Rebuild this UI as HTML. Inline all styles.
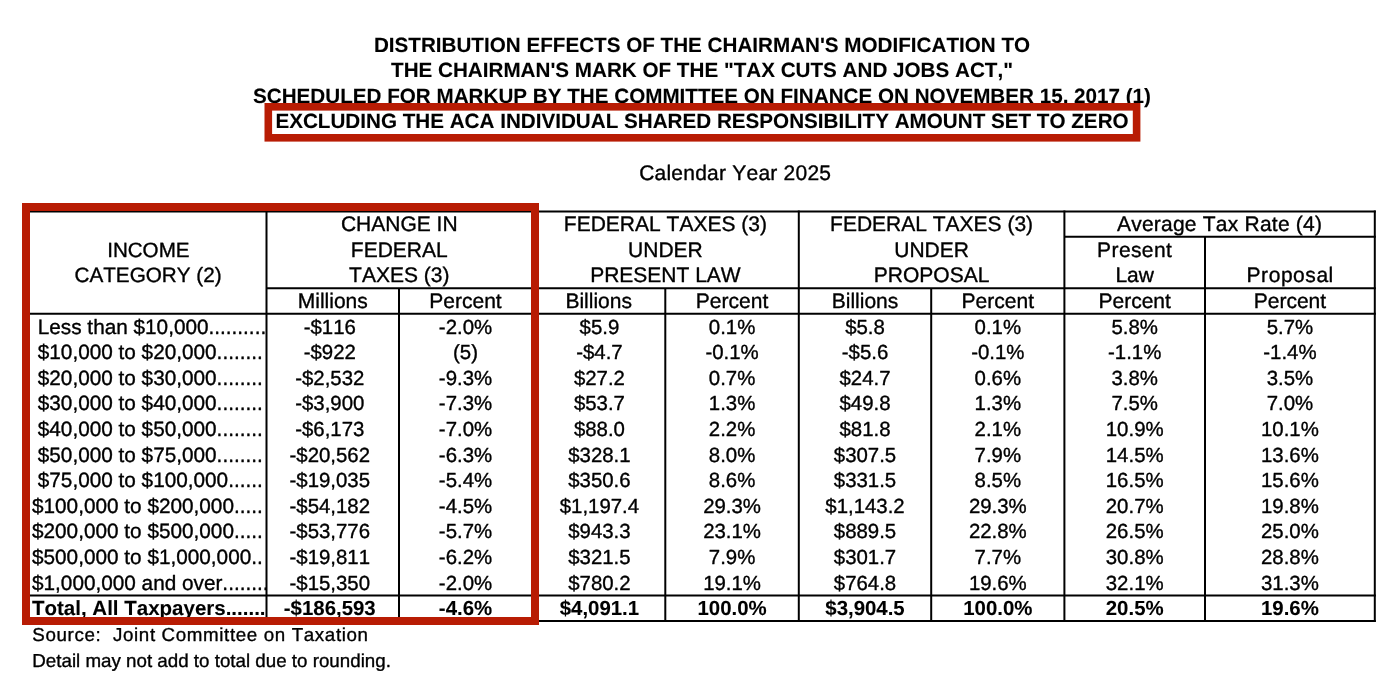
<!DOCTYPE html>
<html lang="en">
<head>
<meta charset="utf-8">
<title>Distribution Effects - Tax Cuts and Jobs Act</title>
<style>
html,body{margin:0;padding:0;background:#fff;}
body{width:1400px;height:683px;overflow:hidden;}
svg{display:block;font-family:"Liberation Sans",sans-serif;font-size:21.0px;fill:#000;font-kerning:none;text-rendering:geometricPrecision;}
.tt{font-weight:bold;font-size:20.65px;stroke-width:0.1px;}
.b{font-weight:bold;stroke-width:0.1px;}
.lb{font-size:20.76px;}
.lb.b{font-size:20.5px;}
.d{font-size:20.4px;}
.ft{font-size:18.75px;}
text{white-space:pre;stroke:#000;stroke-width:0.35px;stroke-linejoin:round;}
</style>
</head>
<body>
<svg width="1400" height="683" viewBox="0 0 1400 683">
<defs><clipPath id="c0"><rect x="28" y="300" width="238.50" height="330"/></clipPath></defs>
<rect x="0" y="0" width="1400" height="683" fill="#fff"/>
<text x="702.00" y="51.70" text-anchor="middle" class="tt">DISTRIBUTION EFFECTS OF THE CHAIRMAN'S MODIFICATION TO</text>
<text x="702.00" y="77.20" text-anchor="middle" class="tt">THE CHAIRMAN'S MARK OF THE "TAX CUTS AND JOBS ACT,"</text>
<text x="702.00" y="102.80" text-anchor="middle" class="tt">SCHEDULED FOR MARKUP BY THE COMMITTEE ON FINANCE ON NOVEMBER 15, 2017 (1)</text>
<rect x="268.3" y="106.8" width="868.3" height="31.0" fill="#fff" stroke="#b81c04" stroke-width="7.6"/>
<text x="702.00" y="128.40" text-anchor="middle" class="tt">EXCLUDING THE ACA INDIVIDUAL SHARED RESPONSIBILITY AMOUNT SET TO ZERO</text>
<text x="735.20" y="179.60" text-anchor="middle" style="letter-spacing:0.23px">Calendar Year 2025</text>
<line x1="28.00" y1="211.50" x2="1375.80" y2="211.50" stroke="#000" stroke-width="2"/>
<line x1="1064.40" y1="236.80" x2="1375.80" y2="236.80" stroke="#000" stroke-width="2"/>
<line x1="266.50" y1="288.20" x2="1375.80" y2="288.20" stroke="#000" stroke-width="2"/>
<line x1="28.00" y1="313.85" x2="1375.80" y2="313.85" stroke="#000" stroke-width="2"/>
<line x1="28.00" y1="595.55" x2="1375.80" y2="595.55" stroke="#000" stroke-width="2"/>
<line x1="28.00" y1="620.90" x2="1375.80" y2="620.90" stroke="#000" stroke-width="2"/>
<line x1="29.00" y1="210.50" x2="29.00" y2="621.90" stroke="#000" stroke-width="2"/>
<line x1="266.50" y1="210.50" x2="266.50" y2="621.90" stroke="#000" stroke-width="2"/>
<line x1="532.00" y1="210.50" x2="532.00" y2="621.90" stroke="#000" stroke-width="2"/>
<line x1="798.80" y1="210.50" x2="798.80" y2="621.90" stroke="#000" stroke-width="2"/>
<line x1="1064.40" y1="210.50" x2="1064.40" y2="621.90" stroke="#000" stroke-width="2"/>
<line x1="1374.80" y1="210.50" x2="1374.80" y2="621.90" stroke="#000" stroke-width="2"/>
<line x1="399.00" y1="288.20" x2="399.00" y2="621.90" stroke="#000" stroke-width="2"/>
<line x1="665.30" y1="288.20" x2="665.30" y2="621.90" stroke="#000" stroke-width="2"/>
<line x1="931.20" y1="288.20" x2="931.20" y2="621.90" stroke="#000" stroke-width="2"/>
<line x1="1205.00" y1="236.80" x2="1205.00" y2="621.90" stroke="#000" stroke-width="2"/>
<text x="148.35" y="257.00" text-anchor="middle" style="font-size:20.6px">INCOME</text>
<text x="148.05" y="282.40" text-anchor="middle" style="font-size:20.7px">CATEGORY (2)</text>
<text x="399.25" y="231.20" text-anchor="middle">CHANGE IN</text>
<text x="399.25" y="256.80" text-anchor="middle">FEDERAL</text>
<text x="399.25" y="282.40" text-anchor="middle">TAXES (3)</text>
<text x="665.40" y="231.20" text-anchor="middle">FEDERAL TAXES (3)</text>
<text x="665.40" y="256.80" text-anchor="middle">UNDER</text>
<text x="665.40" y="282.40" text-anchor="middle">PRESENT LAW</text>
<text x="931.60" y="231.20" text-anchor="middle">FEDERAL TAXES (3)</text>
<text x="931.60" y="256.80" text-anchor="middle">UNDER</text>
<text x="931.60" y="282.40" text-anchor="middle">PROPOSAL</text>
<text x="1219.60" y="231.20" text-anchor="middle" style="letter-spacing:0.22px">Average Tax Rate (4)</text>
<text x="1134.70" y="256.80" text-anchor="middle" style="letter-spacing:0.4px">Present</text>
<text x="1134.70" y="282.40" text-anchor="middle">Law</text>
<text x="1290.20" y="282.40" text-anchor="middle" style="letter-spacing:0.55px">Proposal</text>
<text x="332.75" y="308.00" text-anchor="middle">Millions</text>
<text x="465.50" y="308.00" text-anchor="middle">Percent</text>
<text x="598.65" y="308.00" text-anchor="middle">Billions</text>
<text x="732.05" y="308.00" text-anchor="middle">Percent</text>
<text x="865.00" y="308.00" text-anchor="middle">Billions</text>
<text x="997.80" y="308.00" text-anchor="middle">Percent</text>
<text x="1134.70" y="308.00" text-anchor="middle">Percent</text>
<text x="1289.90" y="308.00" text-anchor="middle">Percent</text>
<text x="32.00" y="333.60" text-anchor="start" class="lb" clip-path="url(#c0)" xml:space="preserve"> Less than $10,000..........</text>
<text x="329.75" y="333.60" text-anchor="middle" class="d">-$116</text>
<text x="465.50" y="333.60" text-anchor="middle" class="d">-2.0%</text>
<text x="599.45" y="333.60" text-anchor="middle" class="d">$5.9</text>
<text x="732.05" y="333.60" text-anchor="middle" class="d">0.1%</text>
<text x="865.00" y="333.60" text-anchor="middle" class="d">$5.8</text>
<text x="997.80" y="333.60" text-anchor="middle" class="d">0.1%</text>
<text x="1134.70" y="333.60" text-anchor="middle" class="d">5.8%</text>
<text x="1289.90" y="333.60" text-anchor="middle" class="d">5.7%</text>
<text x="32.00" y="359.20" text-anchor="start" class="lb" clip-path="url(#c0)" xml:space="preserve"> $10,000 to $20,000........</text>
<text x="329.75" y="359.20" text-anchor="middle" class="d">-$922</text>
<text x="465.50" y="359.20" text-anchor="middle" class="d">(5)</text>
<text x="599.45" y="359.20" text-anchor="middle" class="d">-$4.7</text>
<text x="732.05" y="359.20" text-anchor="middle" class="d">-0.1%</text>
<text x="865.00" y="359.20" text-anchor="middle" class="d">-$5.6</text>
<text x="997.80" y="359.20" text-anchor="middle" class="d">-0.1%</text>
<text x="1134.70" y="359.20" text-anchor="middle" class="d">-1.1%</text>
<text x="1289.90" y="359.20" text-anchor="middle" class="d">-1.4%</text>
<text x="32.00" y="384.80" text-anchor="start" class="lb" clip-path="url(#c0)" xml:space="preserve"> $20,000 to $30,000........</text>
<text x="329.75" y="384.80" text-anchor="middle" class="d">-$2,532</text>
<text x="465.50" y="384.80" text-anchor="middle" class="d">-9.3%</text>
<text x="599.45" y="384.80" text-anchor="middle" class="d">$27.2</text>
<text x="732.05" y="384.80" text-anchor="middle" class="d">0.7%</text>
<text x="865.00" y="384.80" text-anchor="middle" class="d">$24.7</text>
<text x="997.80" y="384.80" text-anchor="middle" class="d">0.6%</text>
<text x="1134.70" y="384.80" text-anchor="middle" class="d">3.8%</text>
<text x="1289.90" y="384.80" text-anchor="middle" class="d">3.5%</text>
<text x="32.00" y="410.40" text-anchor="start" class="lb" clip-path="url(#c0)" xml:space="preserve"> $30,000 to $40,000........</text>
<text x="329.75" y="410.40" text-anchor="middle" class="d">-$3,900</text>
<text x="465.50" y="410.40" text-anchor="middle" class="d">-7.3%</text>
<text x="599.45" y="410.40" text-anchor="middle" class="d">$53.7</text>
<text x="732.05" y="410.40" text-anchor="middle" class="d">1.3%</text>
<text x="865.00" y="410.40" text-anchor="middle" class="d">$49.8</text>
<text x="997.80" y="410.40" text-anchor="middle" class="d">1.3%</text>
<text x="1134.70" y="410.40" text-anchor="middle" class="d">7.5%</text>
<text x="1289.90" y="410.40" text-anchor="middle" class="d">7.0%</text>
<text x="32.00" y="436.00" text-anchor="start" class="lb" clip-path="url(#c0)" xml:space="preserve"> $40,000 to $50,000........</text>
<text x="329.75" y="436.00" text-anchor="middle" class="d">-$6,173</text>
<text x="465.50" y="436.00" text-anchor="middle" class="d">-7.0%</text>
<text x="599.45" y="436.00" text-anchor="middle" class="d">$88.0</text>
<text x="732.05" y="436.00" text-anchor="middle" class="d">2.2%</text>
<text x="865.00" y="436.00" text-anchor="middle" class="d">$81.8</text>
<text x="997.80" y="436.00" text-anchor="middle" class="d">2.1%</text>
<text x="1134.70" y="436.00" text-anchor="middle" class="d">10.9%</text>
<text x="1289.90" y="436.00" text-anchor="middle" class="d">10.1%</text>
<text x="32.00" y="461.60" text-anchor="start" class="lb" clip-path="url(#c0)" xml:space="preserve"> $50,000 to $75,000........</text>
<text x="329.75" y="461.60" text-anchor="middle" class="d">-$20,562</text>
<text x="465.50" y="461.60" text-anchor="middle" class="d">-6.3%</text>
<text x="599.45" y="461.60" text-anchor="middle" class="d">$328.1</text>
<text x="732.05" y="461.60" text-anchor="middle" class="d">8.0%</text>
<text x="865.00" y="461.60" text-anchor="middle" class="d">$307.5</text>
<text x="997.80" y="461.60" text-anchor="middle" class="d">7.9%</text>
<text x="1134.70" y="461.60" text-anchor="middle" class="d">14.5%</text>
<text x="1289.90" y="461.60" text-anchor="middle" class="d">13.6%</text>
<text x="32.00" y="487.20" text-anchor="start" class="lb" clip-path="url(#c0)" xml:space="preserve"> $75,000 to $100,000......</text>
<text x="329.75" y="487.20" text-anchor="middle" class="d">-$19,035</text>
<text x="465.50" y="487.20" text-anchor="middle" class="d">-5.4%</text>
<text x="599.45" y="487.20" text-anchor="middle" class="d">$350.6</text>
<text x="732.05" y="487.20" text-anchor="middle" class="d">8.6%</text>
<text x="865.00" y="487.20" text-anchor="middle" class="d">$331.5</text>
<text x="997.80" y="487.20" text-anchor="middle" class="d">8.5%</text>
<text x="1134.70" y="487.20" text-anchor="middle" class="d">16.5%</text>
<text x="1289.90" y="487.20" text-anchor="middle" class="d">15.6%</text>
<text x="32.00" y="512.80" text-anchor="start" class="lb" clip-path="url(#c0)" xml:space="preserve">$100,000 to $200,000.....</text>
<text x="329.75" y="512.80" text-anchor="middle" class="d">-$54,182</text>
<text x="465.50" y="512.80" text-anchor="middle" class="d">-4.5%</text>
<text x="599.45" y="512.80" text-anchor="middle" class="d">$1,197.4</text>
<text x="732.05" y="512.80" text-anchor="middle" class="d">29.3%</text>
<text x="865.00" y="512.80" text-anchor="middle" class="d">$1,143.2</text>
<text x="997.80" y="512.80" text-anchor="middle" class="d">29.3%</text>
<text x="1134.70" y="512.80" text-anchor="middle" class="d">20.7%</text>
<text x="1289.90" y="512.80" text-anchor="middle" class="d">19.8%</text>
<text x="32.00" y="538.40" text-anchor="start" class="lb" clip-path="url(#c0)" xml:space="preserve">$200,000 to $500,000.....</text>
<text x="329.75" y="538.40" text-anchor="middle" class="d">-$53,776</text>
<text x="465.50" y="538.40" text-anchor="middle" class="d">-5.7%</text>
<text x="599.45" y="538.40" text-anchor="middle" class="d">$943.3</text>
<text x="732.05" y="538.40" text-anchor="middle" class="d">23.1%</text>
<text x="865.00" y="538.40" text-anchor="middle" class="d">$889.5</text>
<text x="997.80" y="538.40" text-anchor="middle" class="d">22.8%</text>
<text x="1134.70" y="538.40" text-anchor="middle" class="d">26.5%</text>
<text x="1289.90" y="538.40" text-anchor="middle" class="d">25.0%</text>
<text x="32.00" y="564.00" text-anchor="start" class="lb" clip-path="url(#c0)" xml:space="preserve">$500,000 to $1,000,000..</text>
<text x="329.75" y="564.00" text-anchor="middle" class="d">-$19,811</text>
<text x="465.50" y="564.00" text-anchor="middle" class="d">-6.2%</text>
<text x="599.45" y="564.00" text-anchor="middle" class="d">$321.5</text>
<text x="732.05" y="564.00" text-anchor="middle" class="d">7.9%</text>
<text x="865.00" y="564.00" text-anchor="middle" class="d">$301.7</text>
<text x="997.80" y="564.00" text-anchor="middle" class="d">7.7%</text>
<text x="1134.70" y="564.00" text-anchor="middle" class="d">30.8%</text>
<text x="1289.90" y="564.00" text-anchor="middle" class="d">28.8%</text>
<text x="32.00" y="589.60" text-anchor="start" class="lb" clip-path="url(#c0)" xml:space="preserve">$1,000,000 and over........</text>
<text x="329.75" y="589.60" text-anchor="middle" class="d">-$15,350</text>
<text x="465.50" y="589.60" text-anchor="middle" class="d">-2.0%</text>
<text x="599.45" y="589.60" text-anchor="middle" class="d">$780.2</text>
<text x="732.05" y="589.60" text-anchor="middle" class="d">19.1%</text>
<text x="865.00" y="589.60" text-anchor="middle" class="d">$764.8</text>
<text x="997.80" y="589.60" text-anchor="middle" class="d">19.6%</text>
<text x="1134.70" y="589.60" text-anchor="middle" class="d">32.1%</text>
<text x="1289.90" y="589.60" text-anchor="middle" class="d">31.3%</text>
<text x="32.00" y="615.00" text-anchor="start" class="lb b" clip-path="url(#c0)" xml:space="preserve">Total, All Taxpayers.......</text>
<text x="329.75" y="615.00" text-anchor="middle" class="d b">-$186,593</text>
<text x="465.50" y="615.00" text-anchor="middle" class="d b">-4.6%</text>
<text x="599.45" y="615.00" text-anchor="middle" class="d b">$4,091.1</text>
<text x="732.05" y="615.00" text-anchor="middle" class="d b">100.0%</text>
<text x="865.00" y="615.00" text-anchor="middle" class="d b">$3,904.5</text>
<text x="997.80" y="615.00" text-anchor="middle" class="d b">100.0%</text>
<text x="1134.70" y="615.00" text-anchor="middle" class="d b">20.5%</text>
<text x="1289.90" y="615.00" text-anchor="middle" class="d b">19.6%</text>
<rect x="26" y="207" width="509" height="414" fill="none" stroke="#b81c04" stroke-width="8"/>
<text x="32.30" y="640.70" text-anchor="start" class="ft" style="letter-spacing:0.63px" xml:space="preserve">Source:  Joint Committee on Taxation</text>
<text x="32.30" y="667.30" text-anchor="start" class="ft">Detail may not add to total due to rounding.</text>
</svg>
</body>
</html>
